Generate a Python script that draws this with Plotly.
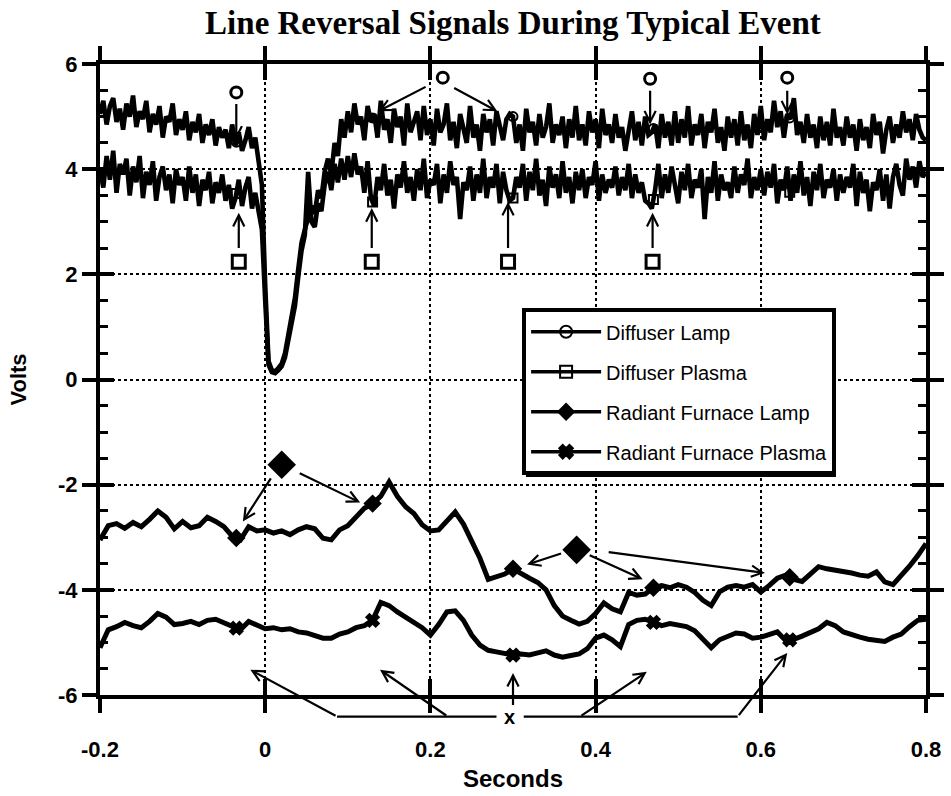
import numpy as np
import plotly.graph_objects as go

# ---------------- data ----------------
chart_title = "Line Reversal Signals During Typical Event"
x_title = "Seconds"
y_title = "Volts"
series_names = ["Diffuser Lamp", "Diffuser Plasma",
                "Radiant Furnace Lamp", "Radiant Furnace Plasma"]

# sampling of the two fast (diffuser) signals and the two slow (radiant) signals
fast_start, fast_step = -0.2, 0.004
slow_start, slow_step = -0.2, 0.01

diffuser_lamp = [
    5.05, 5.30, 4.85, 5.20, 5.35, 4.90, 5.15, 4.75, 5.25, 5.00, 5.40, 4.80, 5.10, 4.95, 5.30, 4.70, 5.05, 4.85, 5.20, 4.60, 5.00, 4.90, 5.25, 4.65, 4.95,
    4.75, 5.10, 4.55, 4.90, 4.70, 5.05, 4.50, 4.85, 4.65, 4.95, 4.45, 4.80, 4.60, 4.75, 4.40, 4.85, 4.45, 4.70, 4.35, 4.55, 4.80, 4.40, 4.60, 4.15, 3.70,
    1.80, 0.35, 0.18, 0.15, 0.22, 0.30, 0.50, 0.85, 1.20, 1.55, 2.10, 2.60, 2.85, 3.10, 3.30, 3.15, 3.60, 3.45, 3.95, 4.20, 3.90, 4.50, 4.25, 4.95, 4.60,
    5.10, 4.70, 5.25, 4.85, 5.00, 4.55, 5.20, 4.90, 5.05, 4.60, 5.30, 4.75, 4.95, 4.50, 5.15, 4.80, 5.00, 4.45, 5.25, 4.70, 4.90, 5.10, 4.55, 5.20, 4.65,
    4.95, 4.45, 5.15, 4.70, 4.85, 5.25, 4.55, 4.90, 4.40, 5.05, 4.75, 4.50, 5.20, 4.60, 4.85, 4.35, 5.05, 4.70, 4.95, 4.45, 5.10, 4.80, 4.55, 4.95, 5.05,
    5.00, 4.50, 4.85, 4.35, 5.15, 4.70, 4.90, 4.45, 5.05, 4.60, 4.80, 5.25, 4.50, 4.85, 4.65, 5.00, 4.40, 4.95, 4.60, 5.20, 4.55, 4.85, 4.45, 5.10, 4.70,
    4.95, 4.40, 5.15, 4.65, 4.85, 4.50, 5.05, 4.60, 4.80, 4.35, 4.75, 5.10, 4.55, 4.90, 4.45, 5.00, 4.65, 4.70, 4.85, 4.40, 5.05, 4.60, 4.90, 4.45, 5.10,
    4.50, 4.95, 4.60, 5.20, 4.45, 4.85, 4.65, 5.05, 4.40, 4.90, 4.70, 5.15, 4.50, 4.80, 4.35, 5.00, 4.60, 4.95, 4.45, 5.10, 4.55, 4.85, 4.40, 5.05, 4.65,
    5.20, 4.55, 4.95, 4.70, 5.30, 4.80, 5.10, 4.60, 5.05, 4.95, 5.35, 4.65, 4.90, 4.50, 5.05, 4.60, 4.85, 4.40, 5.00, 4.55, 4.90, 4.45, 5.15, 4.60, 4.80,
    4.45, 5.00, 4.60, 4.85, 4.35, 4.95, 4.55, 4.80, 4.40, 5.05, 4.65, 4.90, 4.30, 4.75, 5.00, 4.50, 4.85, 4.60, 5.10, 4.70, 4.95, 4.55, 5.05, 4.75, 4.60,
    4.55,
]

diffuser_plasma = [
    4.00, 3.65, 4.25, 3.80, 4.35, 3.55, 4.10, 3.90, 4.20, 3.50, 4.05, 3.75, 4.25, 3.45, 3.95, 3.70, 4.15, 3.40, 3.85, 4.05, 3.60, 3.90, 3.35, 4.00, 3.70,
    3.85, 3.40, 4.05, 3.55, 3.90, 3.30, 3.80, 3.60, 3.95, 3.35, 3.75, 3.55, 3.90, 3.40, 3.70, 3.25, 3.45, 3.80, 3.30, 3.65, 3.85, 3.25, 3.55, 3.20, 2.85,
    1.50, 0.28, 0.14, 0.12, 0.18, 0.25, 0.42, 0.75, 1.05, 1.40, 1.95, 2.45, 2.75, 3.95, 3.00, 2.90, 3.35, 3.20, 3.70, 3.95, 3.60, 4.10, 3.75, 4.20, 3.80,
    4.25, 3.85, 4.30, 3.90, 4.05, 3.55, 4.15, 3.45, 3.30, 3.85, 3.60, 4.10, 3.50, 3.80, 3.25, 3.90, 3.65, 4.15, 3.55, 3.85, 3.40, 4.00, 3.60, 4.20, 3.45,
    3.80, 3.70, 4.10, 3.35, 3.90, 3.55, 4.15, 3.70, 3.85, 3.05, 3.75, 3.60, 4.05, 3.40, 3.90, 3.55, 4.20, 3.45, 3.85, 3.65, 4.10, 3.35, 3.95, 3.60, 3.40,
    3.45, 3.85, 3.65, 4.10, 3.40, 3.95, 3.60, 4.20, 3.50, 3.80, 3.30, 4.05, 3.65, 3.90, 3.45, 4.15, 3.55, 3.85, 3.35, 3.95, 3.60, 4.00, 3.45, 3.85, 3.70,
    4.15, 3.40, 3.90, 3.55, 3.80, 3.65, 4.05, 3.50, 3.85, 3.60, 4.10, 3.45, 3.90, 3.55, 3.75, 3.40, 3.35, 3.25, 3.60, 4.10, 3.45, 3.90, 3.55, 4.05, 3.70,
    3.35, 3.95, 3.60, 4.10, 3.45, 3.80, 3.65, 4.00, 3.05, 3.85, 3.55, 4.15, 3.40, 3.90, 3.60, 3.75, 3.45, 4.05, 3.55, 3.90, 3.70, 4.20, 3.45, 3.85, 3.60,
    4.00, 3.50, 3.95, 3.65, 4.10, 3.35, 3.80, 3.60, 4.05, 3.40, 3.90, 3.55, 4.15, 3.50, 3.85, 3.30, 3.95, 3.60, 4.10, 3.45, 3.80, 3.65, 4.00, 3.40, 3.90,
    3.55, 3.85, 3.65, 4.10, 3.30, 3.95, 3.55, 3.80, 3.20, 3.75, 3.60, 4.00, 3.40, 3.90, 3.25, 3.85, 4.10, 3.70, 3.50, 4.20, 3.80, 4.05, 3.65, 4.15, 3.85,
    3.95,
]

radiant_lamp = [
    -3.05, -2.78, -2.74, -2.83, -2.72, -2.80, -2.66, -2.50, -2.62, -2.84,
    -2.70, -2.82, -2.78, -2.62, -2.70, -2.80, -2.98, -3.05, -2.80, -2.88,
    -2.86, -2.92, -2.88, -2.95, -2.86, -2.80, -2.84, -3.02, -3.05, -2.86,
    -2.78, -2.62, -2.45, -2.36, -2.22, -1.95, -2.22, -2.42, -2.55, -2.76,
    -2.88, -2.86, -2.70, -2.52, -2.75, -3.05, -3.40, -3.80, -3.76, -3.70,
    -3.60, -3.70, -3.78, -3.86, -4.00, -4.30, -4.50, -4.58, -4.65, -4.60,
    -4.45, -4.25, -4.36, -4.42, -4.05, -4.10, -4.08, -3.96, -3.92, -3.96,
    -3.90, -3.95, -4.05, -4.20, -4.30, -4.04, -3.95, -3.92, -3.95, -3.90,
    -4.04, -3.92, -3.78, -3.72, -3.80, -3.84, -3.70, -3.56, -3.60, -3.62,
    -3.66, -3.68, -3.72, -3.74, -3.66, -3.85, -3.90, -3.74, -3.55, -3.35,
    -3.12,
]

radiant_plasma = [
    -5.10, -4.76, -4.70, -4.62, -4.68, -4.72, -4.60, -4.45, -4.52, -4.66,
    -4.64, -4.60, -4.66, -4.58, -4.56, -4.62, -4.70, -4.76, -4.60, -4.66,
    -4.74, -4.72, -4.76, -4.74, -4.80, -4.82, -4.86, -4.92, -4.92, -4.84,
    -4.80, -4.72, -4.68, -4.58, -4.24, -4.30, -4.42, -4.52, -4.62, -4.72,
    -4.86, -4.66, -4.42, -4.40, -4.58, -4.86, -5.05, -5.15, -5.18, -5.20,
    -5.24, -5.22, -5.24, -5.20, -5.16, -5.24, -5.28, -5.25, -5.22, -5.12,
    -4.92, -4.86, -4.95, -5.08, -4.66, -4.58, -4.56, -4.62, -4.68, -4.64,
    -4.66, -4.70, -4.78, -4.95, -5.10, -4.95, -4.88, -4.82, -4.84, -4.92,
    -4.90, -4.84, -4.80, -4.96, -4.94, -4.88, -4.80, -4.74, -4.62, -4.68,
    -4.80, -4.86, -4.90, -4.94, -4.96, -4.98, -4.90, -4.84, -4.70, -4.58,
    -4.56,
]

# times at which the plotting program put a symbol on each curve
marker_times = [-0.035, 0.13, 0.30, 0.47, 0.635]

x_tick_vals = [-0.2, 0.0, 0.2, 0.4, 0.6, 0.8]
x_tick_text = ["-0.2", "0", "0.2", "0.4", "0.6", "0.8"]
y_tick_vals = [-6, -4, -2, 0, 2, 4, 6]
y_tick_text = ["-6", "-4", "-2", "0", "2", "4", "6"]
x_range = [-0.2, 0.8]
y_range = [-6, 6]

# floating call-out symbols (data units) and their arrows (tail x, tail y, head x, head y)
callout_circles_x = [-0.035, 0.215, 0.466, 0.632]
callout_circles_y = [5.46, 5.74, 5.72, 5.74]
callout_squares_x = [-0.032, 0.129, 0.294, 0.469]
callout_squares_y = [2.24, 2.24, 2.24, 2.24]
callout_diamonds_x = [0.020, 0.377]
callout_diamonds_y = [-1.62, -3.24]
callout_x_label = (0.296, -6.41)
callout_arrows = [
    (-0.035, 5.27, -0.035, 4.56),
    (0.196, 5.58, 0.137, 5.10),
    (0.227, 5.56, 0.281, 5.10),
    (0.466, 5.52, 0.466, 4.85),
    (0.632, 5.52, 0.632, 5.04),
    (-0.032, 2.47, -0.032, 3.17),
    (0.129, 2.47, 0.129, 3.26),
    (0.294, 2.47, 0.294, 3.38),
    (0.469, 2.47, 0.469, 3.17),
    (0.008, -1.85, -0.027, -2.70),
    (0.040, -1.77, 0.115, -2.34),
    (0.360, -3.30, 0.317, -3.52),
    (0.391, -3.33, 0.457, -3.80),
    (0.414, -3.28, 0.605, -3.68),
    (0.300, -6.22, 0.300, -5.58),
    (0.087, -6.41, -0.018, -5.52),
    (0.221, -6.41, 0.139, -5.52),
    (0.381, -6.41, 0.462, -5.56),
    (0.572, -6.41, 0.632, -5.20),
]
callout_bars = [(0.087, 0.280, -6.41), (0.313, 0.572, -6.41)]

# legend box placement (paper units) and its drop shadow
legend_left, legend_top = 0.511, 0.613
legend_shadow = (0.5157, 0.3455, 0.891, 0.6054)  # x0, y0, x1, y1

# ---------------- figure ----------------
t_fast = np.round(fast_start + fast_step * np.arange(len(diffuser_lamp)), 4)
t_slow = np.round(slow_start + slow_step * np.arange(len(radiant_lamp)), 4)

series = [
    (t_fast, diffuser_lamp, 4.6, "circle-open", 9),
    (t_fast, diffuser_plasma, 4.6, "square-open", 9),
    (t_slow, radiant_lamp, 5, "diamond", 12),
    (t_slow, radiant_plasma, 5, "x", 11),
]

fig = go.Figure()
for name, (tx, vy, lw, sym, msz) in zip(series_names, series):
    fig.add_trace(go.Scatter(x=tx, y=vy, mode="lines", line=dict(color="black", width=lw),
                             showlegend=False, hoverinfo="skip", legendgroup=name))
    mt = np.array(marker_times)
    fig.add_trace(go.Scatter(x=mt, y=np.interp(mt, tx, vy), mode="markers",
                             marker=dict(symbol=sym, size=msz, color="black",
                                         line=dict(color="black", width=2)),
                             showlegend=False, hoverinfo="skip", legendgroup=name))
    # legend entry
    fig.add_trace(go.Scatter(x=[None], y=[None], mode="lines+markers", name=name,
                             line=dict(color="black", width=3.5),
                             marker=dict(symbol=sym, size=12, color="black",
                                         line=dict(color="black", width=2)),
                             legendgroup=name))

# call-out symbols
fig.add_trace(go.Scatter(x=callout_circles_x, y=callout_circles_y, mode="markers",
                         marker=dict(symbol="circle-open", size=11, color="black", line=dict(width=3)),
                         showlegend=False, hoverinfo="skip"))
fig.add_trace(go.Scatter(x=callout_squares_x, y=callout_squares_y, mode="markers",
                         marker=dict(symbol="square-open", size=13, color="black", line=dict(width=3)),
                         showlegend=False, hoverinfo="skip"))
fig.add_trace(go.Scatter(x=callout_diamonds_x, y=callout_diamonds_y, mode="markers",
                         marker=dict(symbol="diamond", size=22, color="black"),
                         showlegend=False, hoverinfo="skip"))
# helper trace for the overlay axes that draw the inner tick marks
fig.add_trace(go.Scatter(x=[None], y=[None], xaxis="x2", yaxis="y2", showlegend=False, hoverinfo="skip"))

annotations = []
for tx0, ty0, hx, hy in callout_arrows:
    annotations.append(dict(x=hx, y=hy, ax=tx0, ay=ty0, xref="x", yref="y", axref="x", ayref="y",
                            text="", showarrow=True, arrowhead=5, arrowsize=1, arrowwidth=2.2,
                            arrowcolor="black", standoff=0, startstandoff=0))


def paper_x(v):
    return (v - x_range[0]) / (x_range[1] - x_range[0])


def paper_y(v):
    return (v - y_range[0]) / (y_range[1] - y_range[0])


annotations.append(dict(x=callout_x_label[0], y=paper_y(callout_x_label[1]), xref="x", yref="paper",
                        xanchor="center", yanchor="middle",
                        text="x", showarrow=False, font=dict(size=20, weight="bold", color="black")))

shapes = []
for xa, xb, yy in callout_bars:
    shapes.append(dict(type="line", xref="paper", yref="paper", x0=paper_x(xa), x1=paper_x(xb),
                       y0=paper_y(yy), y1=paper_y(yy), line=dict(color="black", width=2.2)))
shapes.append(dict(type="rect", xref="paper", yref="paper", layer="above",
                   x0=legend_shadow[0], y0=legend_shadow[1], x1=legend_shadow[2], y1=legend_shadow[3],
                   fillcolor="black", line=dict(width=0)))

tick_font = dict(family="Liberation Sans", size=22, weight="bold", color="black")
fig.update_layout(
    width=951, height=796, autosize=False,
    margin=dict(l=100, r=25, t=64, b=101, autoexpand=False),
    paper_bgcolor="white", plot_bgcolor="white",
    font=dict(family="Liberation Sans", color="black"),
    title=dict(text=chart_title, x=0.5, xref="paper", xanchor="center", y=0.972, yref="container",
               yanchor="middle", font=dict(family="Liberation Serif", size=33, weight="bold", color="black")),
    xaxis=dict(range=x_range, tickmode="array", tickvals=x_tick_vals, ticktext=x_tick_text,
               ticks="outside", ticklen=14, tickwidth=4, tickcolor="black", automargin=False,
               showline=True, linewidth=4, linecolor="black", mirror="ticks",
               showgrid=True, gridcolor="black", gridwidth=2, griddash="dot", zeroline=False,
               tickfont=tick_font, ticklabelstandoff=18,
               title=dict(text=x_title, standoff=10,
                          font=dict(family="Liberation Sans", size=24, weight="bold", color="black"))),
    yaxis=dict(range=y_range, tickmode="array", tickvals=y_tick_vals, ticktext=y_tick_text,
               ticks="outside", ticklen=14, tickwidth=4, tickcolor="black", automargin=False,
               showline=True, linewidth=4, linecolor="black", mirror="ticks",
               showgrid=True, gridcolor="black", gridwidth=2, griddash="dot", zeroline=False,
               tickfont=tick_font,
               title=dict(text=y_title, standoff=26,
                          font=dict(family="Liberation Sans", size=22, weight="bold", color="black"))),
    xaxis2=dict(range=x_range, overlaying="x", anchor="y2", tickmode="array", tickvals=x_tick_vals,
                ticks="inside", ticklen=16, tickwidth=4, tickcolor="black", mirror="ticks",
                automargin=False,
                showline=False, showgrid=False, zeroline=False, showticklabels=False),
    yaxis2=dict(range=y_range, overlaying="y", anchor="x2", tickmode="linear", tick0=0, dtick=2,
                ticks="inside", ticklen=14, tickwidth=4, tickcolor="black", mirror="ticks",
                automargin=False,
                minor=dict(ticks="inside", ticklen=8, tickwidth=3, tickcolor="black",
                           tick0=0, dtick=0.5, showgrid=False),
                showline=False, showgrid=False, zeroline=False, showticklabels=False),
    legend=dict(x=legend_left, y=legend_top, xref="paper", yref="paper", xanchor="left", yanchor="top",
                bgcolor="white", bordercolor="black", borderwidth=4,
                font=dict(family="Liberation Sans", size=20, color="black"),
                tracegroupgap=11, itemwidth=70),
    annotations=annotations,
    shapes=shapes,
)

fig.write_html("out.html")
